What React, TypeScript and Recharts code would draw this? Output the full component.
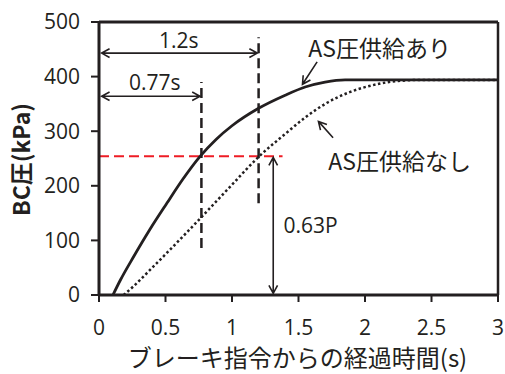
import React from 'react';
import { ComposedChart, Line, XAxis, YAxis, ReferenceLine, ReferenceDot } from 'recharts';

// Data (time in s, BC pressure in kPa)
const timeWith = [0.105, 0.16, 0.26, 0.38, 0.51, 0.63, 0.76, 0.88, 1.0, 1.2, 1.4, 1.55, 1.7, 1.85, 2.2, 3.0];
const pressureWith = [0, 27, 70, 119, 168, 212, 254, 285, 310, 342, 366, 381, 390, 394, 394, 394];

const timeWithout = [0.185, 0.26, 0.38, 0.51, 0.63, 0.76, 0.88, 1.0, 1.2, 1.4, 1.55, 1.7, 1.89, 2.09, 2.25, 2.45, 3.0];
const pressureWithout = [0, 16, 45, 77, 107, 140, 171, 202, 253, 295, 325, 350, 372, 386, 392, 394, 394];

const xTicks = [0, 0.5, 1, 1.5, 2, 2.5, 3];
const yTicks = [0, 100, 200, 300, 400, 500];

const withData = timeWith.map((t, i) => ({ t, p: pressureWith[i] }));
const withoutData = timeWithout.map((t, i) => ({ t, p: pressureWithout[i] }));

const INK = '#231f20';
const NUM_FONT = '"Open Sans", "Noto Sans", sans-serif';
const JP_FONT = '"Noto Sans CJK JP", "Noto Sans", sans-serif';

function head(x: number, y: number, ang: number, len = 9, spread = 0.5) {
  const a1 = ang + Math.PI - spread;
  const a2 = ang + Math.PI + spread;
  return `M${x + len * Math.cos(a1)},${y + len * Math.sin(a1)} L${x},${y} L${x + len * Math.cos(a2)},${y + len * Math.sin(a2)}`;
}

const arrowShape = (both: boolean, width = 1.6) => (props: any) => {
  const { x1, y1, x2, y2 } = props;
  if ([x1, y1, x2, y2].some((v) => typeof v !== 'number' || isNaN(v))) return <g />;
  const ang = Math.atan2(y2 - y1, x2 - x1);
  let d = `M${x1},${y1} L${x2},${y2} ` + head(x2, y2, ang);
  if (both) d += ' ' + head(x1, y1, ang + Math.PI);
  return <path d={d} fill="none" stroke={INK} strokeWidth={width} />;
};

const textShape = (txt: string, size: number, font: string) => (props: any) => {
  const { cx, cy } = props;
  return (
    <text x={cx} y={cy} textAnchor="middle" dominantBaseline="central" fontSize={size} fontFamily={font} fill={INK}>
      {txt}
    </text>
  );
};

export default function App() {
  return (
    <div style={{ position: 'absolute', left: 0, top: 0, width: 505, height: 374, background: '#fff' }}>
      <ComposedChart width={505} height={374} margin={{ top: 22, right: 7, left: 5, bottom: 5 }}>
        <XAxis
          type="number"
          dataKey="t"
          domain={[0, 3]}
          ticks={xTicks}
          allowDuplicatedCategory={false}
          height={74}
          axisLine={{ stroke: INK, strokeWidth: 3 }}
          tickLine={{ stroke: INK, strokeWidth: 2 }}
          tickSize={7}
          tickMargin={18}
          tick={{ fontSize: 21, fill: INK, fontFamily: NUM_FONT }}
          label={{
            content: (p: any) => {
              const vb = p.viewBox || {};
              return (
                <text x={vb.x + vb.width / 2 - 1} y={vb.y + 61} textAnchor="middle" dominantBaseline="central" fontSize={24} fontFamily={JP_FONT} fill={INK}>
                  ブレーキ指令からの経過時間(s)
                </text>
              );
            },
          }}
        />
        <YAxis
          type="number"
          domain={[0, 500]}
          ticks={yTicks}
          width={94}
          axisLine={{ stroke: INK, strokeWidth: 3 }}
          tickLine={{ stroke: INK, strokeWidth: 2 }}
          tickSize={8}
          tickMargin={11}
          tick={{ fontSize: 21, fill: INK, fontFamily: NUM_FONT }}
          label={{
            content: (p: any) => {
              const vb = p.viewBox || {};
              const cx = vb.x + 15;
              const cy = vb.y + vb.height / 2 + 1;
              return (
                <text x={cx} y={cy} transform={`rotate(-90 ${cx} ${cy})`} textAnchor="middle" dominantBaseline="central" fontSize={23} fontWeight="bold" fontFamily={JP_FONT} fill={INK}>
                  BC圧(kPa)
                </text>
              );
            },
          }}
        />
        {/* frame */}
        <ReferenceLine y={500} stroke={INK} strokeWidth={3} />
        <ReferenceLine x={3} stroke={INK} strokeWidth={2.5} />

        {/* reference dashed lines */}
        <ReferenceLine segment={[{ x: 0, y: 254 }, { x: 1.38, y: 254 }]} stroke="#ee1c25" strokeWidth={2} strokeDasharray="10 5" />
        <ReferenceLine segment={[{ x: 0.77, y: 86 }, { x: 0.77, y: 390 }]} stroke={INK} strokeWidth={2.5} strokeDasharray="10 5" />
        <ReferenceLine segment={[{ x: 1.2, y: 168 }, { x: 1.2, y: 472 }]} stroke={INK} strokeWidth={2.5} strokeDasharray="10 5" />

        {/* arrows */}
        <ReferenceLine segment={[{ x: 0.02, y: 443 }, { x: 1.19, y: 443 }]} shape={arrowShape(true)} />
        <ReferenceLine segment={[{ x: 0.02, y: 364 }, { x: 0.76, y: 364 }]} shape={arrowShape(true)} />
        <ReferenceLine segment={[{ x: 1.31, y: 252 }, { x: 1.31, y: 3 }]} shape={arrowShape(true)} />
        <ReferenceLine segment={[{ x: 1.64, y: 427 }, { x: 1.53, y: 386 }]} shape={arrowShape(false)} />
        <ReferenceLine segment={[{ x: 1.76, y: 288 }, { x: 1.65, y: 318 }]} shape={arrowShape(false)} />

        {/* series */}
        <Line data={withData} dataKey="p" type="monotone" stroke={INK} strokeWidth={2.8} dot={false} activeDot={false} isAnimationActive={false} />
        <Line data={withoutData} dataKey="p" type="monotone" stroke={INK} strokeWidth={2.5} strokeDasharray="2.5 2.5" dot={false} activeDot={false} isAnimationActive={false} />

        {/* text annotations */}
        <ReferenceDot x={0.6} y={467} r={0} shape={textShape('1.2s', 21, NUM_FONT)} />
        <ReferenceDot x={0.42} y={390} r={0} shape={textShape('0.77s', 21, NUM_FONT)} />
        <ReferenceDot x={1.59} y={128} r={0} shape={textShape('0.63P', 21, NUM_FONT)} />
        <ReferenceDot x={2.11} y={454} r={0} shape={textShape('AS圧供給あり', 23, JP_FONT)} />
        <ReferenceDot x={2.26} y={247} r={0} shape={textShape('AS圧供給なし', 23, JP_FONT)} />
      </ComposedChart>
    </div>
  );
}
